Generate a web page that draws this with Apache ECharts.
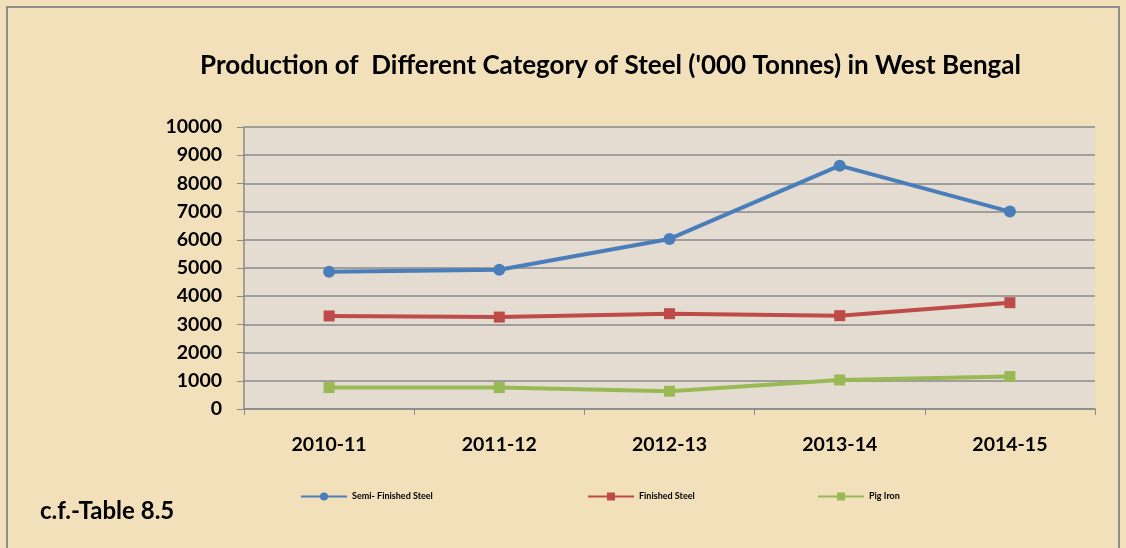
<!DOCTYPE html>
<html>
<head>
<meta charset="utf-8">
<script src="https://cdn.jsdelivr.net/npm/echarts@6/dist/echarts.min.js"></script>
<style>
  html, body { margin: 0; padding: 0; background: #f1e0b9; }
  #main { width: 1126px; height: 548px; }
</style>
</head>
<body>
<div id="main"></div>
<script>
// data
var years = ['2010-11', '2011-12', '2012-13', '2013-14', '2014-15'];
var semiFinished = [4870, 4940, 6030, 8630, 7000];
var finished = [3300, 3260, 3380, 3310, 3770];
var pigIron = [760, 760, 630, 1030, 1150];
var seriesNames = ['Semi- Finished Steel', 'Finished Steel', 'Pig Iron'];
var seriesColors = ['#4a7ebb', '#be4b48', '#98b954'];

var chart = echarts.init(document.getElementById('main'));

var boldFont = 'Lato, "Open Sans", sans-serif';

function legendAt(idx, left) {
    return {
        data: [seriesNames[idx]],
        left: left,
        top: 487,
        itemWidth: 46,
        itemHeight: 10,
        itemGap: 0,
        textStyle: { fontSize: 9, fontWeight: 'bold', color: '#000', fontFamily: boldFont }
    };
}

function lineSeries(idx, data, symbol) {
    return {
        name: seriesNames[idx],
        type: 'line',
        data: data,
        symbol: symbol,
        symbolSize: symbol === 'circle' ? 12 : 11,
        lineStyle: { width: 4, color: seriesColors[idx] },
        itemStyle: { color: seriesColors[idx] },
        z: 3 + idx
    };
}

option = {
    backgroundColor: '#f1e0b9',
    animation: false,
    graphic: [
        {
            type: 'rect',
            shape: { x: 7, y: 7, width: 1112, height: 545 },
            style: { fill: 'none', stroke: '#8e8e8e', lineWidth: 2 },
            z: -1
        },
        {
            type: 'text',
            left: 40,
            top: 499,
            style: { text: 'c.f.-Table 8.5', font: 'bold 24px ' + boldFont, fill: '#000' }
        }
    ],
    title: {
        text: "Production of  Different Category of Steel ('000 Tonnes) in West Bengal",
        left: 195,
        top: 48,
        textStyle: { fontSize: 26, fontWeight: 'bold', color: '#000', fontFamily: boldFont }
    },
    legend: [legendAt(0, 295), legendAt(1, 582), legendAt(2, 812)],
    grid: {
        left: 244,
        right: 31,
        top: 127,
        bottom: 139,
        show: true,
        backgroundColor: '#e4dcd1',
        borderWidth: 0
    },
    xAxis: {
        type: 'category',
        data: years,
        boundaryGap: true,
        axisLine: { lineStyle: { color: '#8a8a8a', width: 1.5 } },
        axisTick: { show: true, interval: 0, length: 6, lineStyle: { color: '#8a8a8a' } },
        axisLabel: { fontSize: 19.5, fontWeight: 'bold', color: '#000', margin: 26, fontFamily: boldFont }
    },
    yAxis: {
        type: 'value',
        min: 0,
        max: 10000,
        interval: 1000,
        axisLine: { show: true, lineStyle: { color: '#8a8a8a', width: 1.5 } },
        axisTick: { show: true, length: 7, lineStyle: { color: '#8a8a8a' } },
        splitLine: { lineStyle: { color: '#8a8a8a', width: 1.5 } },
        axisLabel: {
            fontSize: 19.5, fontWeight: 'bold', color: '#000', margin: 22, fontFamily: boldFont,
            formatter: function (v) { return String(v); }
        }
    },
    series: [
        lineSeries(0, semiFinished, 'circle'),
        lineSeries(1, finished, 'rect'),
        lineSeries(2, pigIron, 'rect')
    ]
};

chart.setOption(option);
</script>
</body>
</html>
